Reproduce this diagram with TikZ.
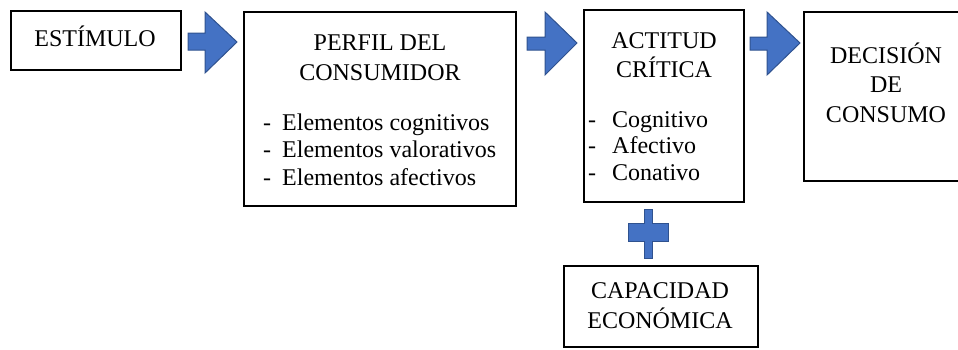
\documentclass[tikz,border=0pt]{standalone}
\usepackage{fontspec}
\setmainfont{Liberation Serif}
\newfontfamily\tnr{Liberation Serif}
\definecolor{arrowfill}{HTML}{4472C4}
\definecolor{arrowline}{HTML}{2F528F}
\begin{document}
\begin{tikzpicture}[x=1pt,y=-1pt,
  box/.style={draw=black, line width=2.4pt, fill=white},
  txt/.style={anchor=base, inner sep=0pt, font=\tnr\fontsize{24}{29}\selectfont},
  txtl/.style={anchor=base west, inner sep=0pt, font=\tnr\fontsize{24}{29}\selectfont},
  blockarrow/.style={fill=arrowfill, draw=arrowline, line width=1pt, line join=miter}]
\useasboundingbox (0,0) rectangle (958,349);
\clip (0,0) rectangle (958,349);

% boxes
\path[box] (11,11) rectangle (181,70);
\path[box] (244,12) rectangle (516,206);
\path[box] (584,10) rectangle (744,202);
\path[box] (804,12) rectangle (980,181);
\path[box] (564,266) rectangle (758,347);

% texts
\node[txt] (est) at (95,46) {ESTÍMULO};

\node[txt] (p1) at (380,50) {PERFIL DEL};
\node[txt] (p2) at (380,80) {CONSUMIDOR};
\node[txtl] (pd1) at (263,130) {-};
\node[txtl] (pl1) at (282,130) {Elementos cognitivos};
\node[txtl] (pd2) at (263,157) {-};
\node[txtl] (pl2) at (282,157) {Elementos valorativos};
\node[txtl] (pd3) at (263,185) {-};
\node[txtl] (pl3) at (282,185) {Elementos afectivos};

\node[txt] (a1) at (664,48) {ACTITUD};
\node[txt] (a2) at (664,77) {CRÍTICA};
\node[txtl] (ad1) at (588,127) {-};
\node[txtl] (al1) at (612,127) {Cognitivo};
\node[txtl] (ad2) at (588,153) {-};
\node[txtl] (al2) at (612,153) {Afectivo};
\node[txtl] (ad3) at (588,180) {-};
\node[txtl] (al3) at (612,180) {Conativo};

\node[txt] (d1) at (886,63) {DECISIÓN};
\node[txt] (d2) at (886,92) {DE};
\node[txt] (d3) at (886,122) {CONSUMO};

\node[txt] (c1) at (660,298) {CAPACIDAD};
\node[txt] (c2) at (660,328) {ECONÓMICA};

% block arrows
\path[blockarrow] (188,33) -- (205,33) -- (205,12) -- (237,42) -- (205,73) -- (205,50) -- (188,50) -- cycle;
\path[blockarrow] (527,37) -- (545,37) -- (545,12) -- (577,43) -- (545,75) -- (545,50) -- (527,50) -- cycle;
\path[blockarrow] (750,37) -- (767,37) -- (767,12) -- (800,43) -- (767,75) -- (767,50) -- (750,50) -- cycle;

% plus
\path[blockarrow] (644,209) -- (652,209) -- (652,223) -- (668,223) -- (668,241) -- (652,241) -- (652,258) -- (644,258) -- (644,241) -- (628,241) -- (628,223) -- (644,223) -- cycle;
\end{tikzpicture}
\end{document}
